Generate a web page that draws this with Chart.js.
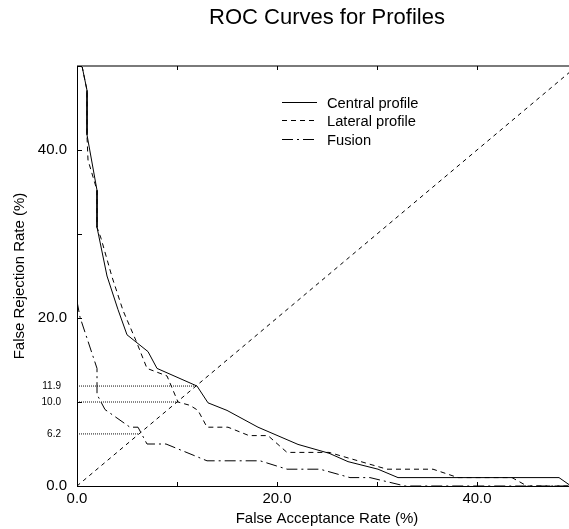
<!DOCTYPE html>
<html>
<head>
<meta charset="utf-8">
<script src="https://cdn.jsdelivr.net/npm/chart.js@4.4.1/dist/chart.umd.min.js"></script>
<style>
  html, body { margin: 0; padding: 0; background: #fff; overflow: hidden; }
  canvas { display: block; }
</style>
</head>
<body>
<canvas id="c" width="600" height="529"></canvas>
<script>
// ---- data ----
const chartTitle = 'ROC Curves for Profiles';
const xTitle = 'False Acceptance Rate (%)';
const yTitle = 'False Rejection Rate (%)';
const seriesNames = ['Central profile', 'Lateral profile', 'Fusion'];

const centralX = [0.5, 1.0, 1.0, 2.0, 2.0, 3.0, 4.1, 5.0, 7.1, 8.0, 12.0, 13.1, 15.0, 18.1, 22.1, 25.2, 27.1, 30.1, 32.1, 48.2, 49.4];
const centralY = [50.0, 47.1, 41.8, 35.2, 30.8, 25.0, 21.0, 18.0, 16.0, 14.0, 11.9, 9.9, 9.0, 7.0, 4.95, 3.9, 2.9, 2.0, 1.0, 1.0, 0.0];

const lateralX = [0.5, 1.0, 1.0, 1.1, 2.0, 2.0, 2.4, 3.5, 4.6, 5.9, 7.0, 9.0, 10.1, 11.3, 12.1, 13.0, 15.1, 17.2, 19.1, 21.0, 25.2, 31.0, 35.6, 38.1, 43.5, 45.0, 50.0];
const lateralY = [50.0, 47.1, 41.7, 38.8, 35.2, 30.8, 29.5, 24.9, 20.9, 17.3, 14.0, 13.1, 10.0, 9.6, 9.0, 7.0, 7.0, 6.0, 6.0, 4.0, 4.0, 2.0, 2.0, 1.0, 1.0, 0.0, 0.0];

const fusionX = [0.0, 0.3, 2.0, 2.0, 2.8, 5.3, 6.1, 7.0, 8.9, 13.0, 18.3, 21.0, 24.3, 27.3, 29.3, 32.8, 50.0];
const fusionY = [22.0, 20.1, 14.0, 10.9, 9.1, 7.0, 7.0, 5.0, 5.0, 3.0, 3.0, 2.0, 2.0, 1.0, 1.0, 0.0, 0.0];

const diagX = [0, 50];
const diagY = [0, 50];

const eerLevels = [11.9, 10.0, 6.2];   // FRR at equal error points
const eerEndX = [12.0, 10.1, 6.2];     // where the guide lines stop

const xTickLabels = [0, 20, 40];
const yTickLabels = [0, 20, 40];
const tickMarks = [0, 10, 20, 30, 40, 50];

// ---- build ----
const FAMILY = '"Liberation Sans", Arial, Helvetica, sans-serif';
Chart.defaults.font.family = FAMILY;
Chart.defaults.color = '#000';

const pts = (xs, ys) => xs.map((x, i) => ({ x: x, y: ys[i] }));
const base = { borderColor: '#000', borderWidth: 1, pointRadius: 0, tension: 0, fill: false };

const datasets = [
  Object.assign({}, base, { label: seriesNames[0], data: pts(centralX, centralY), borderDash: [] }),
  Object.assign({}, base, { label: seriesNames[1], data: pts(lateralX, lateralY), borderDash: [5, 4] }),
  Object.assign({}, base, { label: seriesNames[2], data: pts(fusionX, fusionY), borderDash: [11, 4, 2, 4] }),
  Object.assign({}, base, { label: 'EER', data: pts(diagX, diagY), borderDash: [4, 4] })
];
eerLevels.forEach((lv, i) => {
  datasets.push(Object.assign({}, base, {
    label: 'guide' + i, data: pts([0, eerEndX[i]], [lv, lv]),
    borderColor: '#111', borderDash: [1, 1]
  }));
});

const decor = {
  id: 'decor',
  afterLayout(chart) {
    // let the inner label-only axis draw its labels to the left of the plot
    const s = chart.scales.y2;
    if (s) { s.left = 0; }
  },
  afterDraw(chart) {
    const ctx = chart.ctx, a = chart.chartArea;
    const xs = chart.scales.x, ys = chart.scales.y;
    ctx.save();
    // top frame line
    ctx.strokeStyle = '#7a7a7a';
    ctx.lineWidth = 2;
    ctx.setLineDash([]);
    ctx.beginPath(); ctx.moveTo(a.left, a.top); ctx.lineTo(a.right, a.top); ctx.stroke();
    // inward tick marks
    ctx.strokeStyle = '#000';
    ctx.lineWidth = 1;
    ctx.beginPath();
    tickMarks.forEach(v => {
      const px = Math.round(xs.getPixelForValue(v)) + 0.5;
      ctx.moveTo(px, a.bottom); ctx.lineTo(px, a.bottom - 4);
      ctx.moveTo(px, a.top); ctx.lineTo(px, a.top + 4);
      const py = Math.round(ys.getPixelForValue(v)) + 0.5;
      ctx.moveTo(a.left, py); ctx.lineTo(a.left + 5, py);
    });
    ctx.stroke();
    // title
    ctx.fillStyle = '#000';
    ctx.font = '22px ' + FAMILY;
    ctx.textAlign = 'center';
    ctx.textBaseline = 'alphabetic';
    ctx.fillText(chartTitle, (a.left + a.right) / 2, 23.5);
    // legend
    ctx.font = '14.7px ' + FAMILY;
    ctx.textAlign = 'left';
    for (let i = 0; i < 3; i++) {
      const ds = chart.data.datasets[i];
      const y = 102 + i * 18.3;
      ctx.setLineDash(ds.borderDash || []);
      ctx.beginPath();
      ctx.moveTo(282, Math.round(y) + 0.5); ctx.lineTo(317, Math.round(y) + 0.5);
      ctx.stroke();
      ctx.setLineDash([]);
      ctx.fillText(ds.label, 327, y + 6);
    }
    ctx.restore();
  }
};

new Chart(document.getElementById('c'), {
  type: 'line',
  data: { datasets: datasets },
  options: {
    responsive: false,
    animation: false,
    devicePixelRatio: 1,
    layout: { padding: { left: 0, top: 66, right: 23, bottom: 0 } },
    plugins: { legend: { display: false }, title: { display: false }, tooltip: { enabled: false } },
    scales: {
      x: {
        type: 'linear', min: 0, max: 50, position: 'bottom',
        afterBuildTicks: s => { s.ticks = xTickLabels.map(v => ({ value: v })); },
        afterFit: s => { s.height = 43; },
        ticks: { callback: v => Number(v).toFixed(1), font: { size: 15 }, color: '#000', padding: 4, maxRotation: 0, autoSkip: false },
        grid: { display: false, drawTicks: false },
        border: { display: true, color: '#000', width: 1 },
        title: { display: true, text: xTitle, font: { size: 15 }, color: '#000', padding: { top: 0, bottom: 1 } }
      },
      y: {
        type: 'linear', min: 0, max: 50, position: 'left', weight: 1,
        afterBuildTicks: s => { s.ticks = yTickLabels.map(v => ({ value: v })); },
        afterFit: s => { s.width = 77; },
        ticks: { callback: v => Number(v).toFixed(1), font: { size: 15 }, color: '#000', padding: 10, autoSkip: false },
        grid: { display: false, drawTicks: false },
        border: { display: true, color: '#000', width: 1 },
        title: { display: true, text: yTitle, font: { size: 15 }, color: '#000', padding: { top: 10.5, bottom: 0 } }
      },
      y2: {
        type: 'linear', min: 0, max: 50, position: 'left', weight: 0,
        afterBuildTicks: s => { s.ticks = eerLevels.slice().sort((p, q) => p - q).map(v => ({ value: v })); },
        afterFit: s => { s.width = 0; },
        ticks: { callback: v => Number(v).toFixed(1), font: { size: 10 }, color: '#000', padding: 16, autoSkip: false },
        grid: { display: false, drawTicks: false },
        border: { display: false }
      }
    }
  },
  plugins: [decor]
});
</script>
</body>
</html>
